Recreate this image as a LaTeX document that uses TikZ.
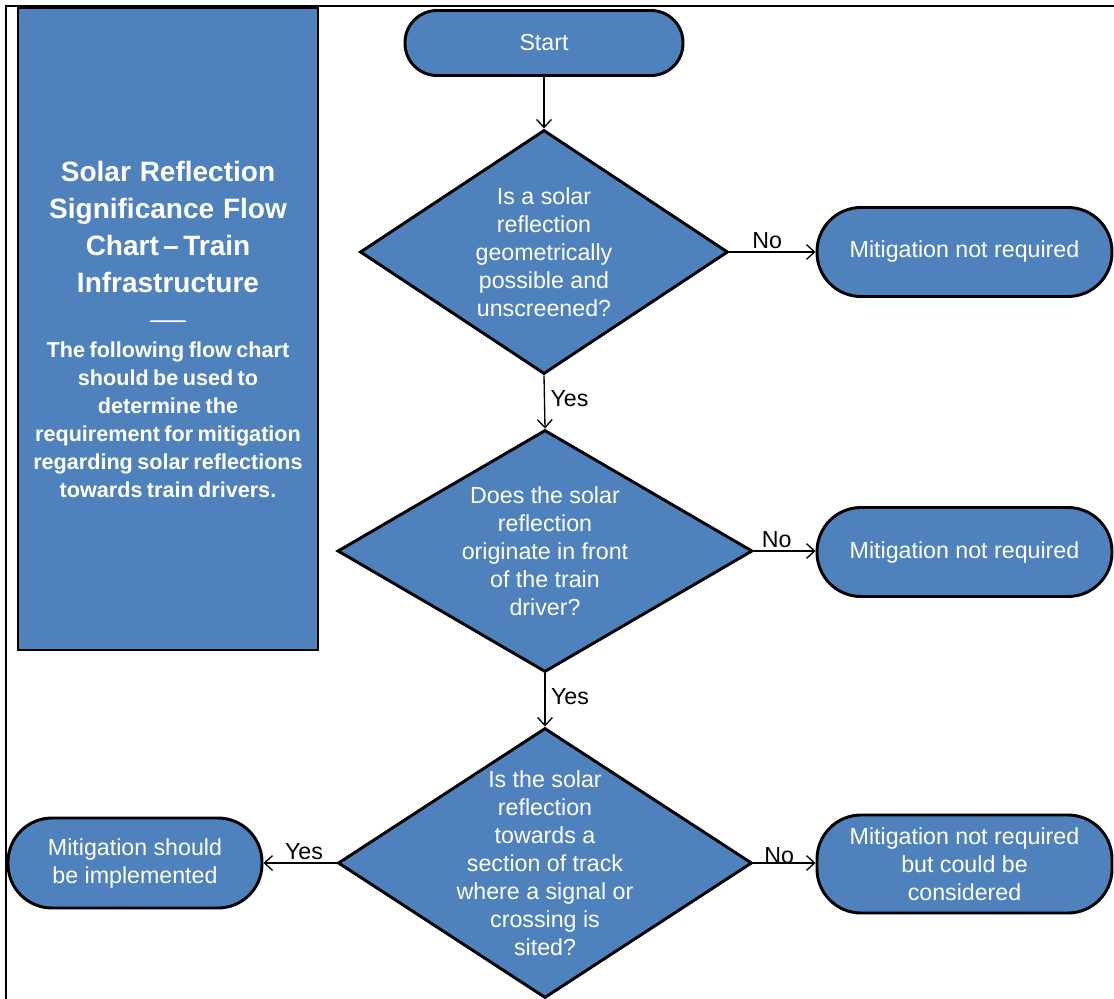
\documentclass[tikz,border=0pt]{standalone}
\usepackage{fontspec}
\setmainfont{Liberation Sans}
\usetikzlibrary{shapes.geometric,arrows.meta}
\definecolor{boxblue}{RGB}{79,129,189}
\begin{document}
\begin{tikzpicture}[x=0.75pt,y=-0.75pt,
  shapebase/.style={draw=black, line width=2.2pt, fill=boxblue, text=white, inner sep=0pt},
  bodyfont/.style={font=\fontsize{17.4}{21}\selectfont},
  terminal/.style={shapebase, bodyfont, rectangle, align=center},
  decision/.style={shapebase, diamond},
  qtext/.style={text=white, bodyfont, align=center, inner sep=0pt},
  arr/.style={-{Straight Barb[length=6pt,width=11pt]}, line width=1pt},
  lbl/.style={bodyfont, text=black, inner sep=2pt}
]
\useasboundingbox (0,0) rectangle (1114,999);
% outer frame
\draw[line width=1.6pt] (6,999) -- (6,6) -- (1114,6);

% left panel
\node[shapebase, rectangle, minimum width=225pt, minimum height=481.5pt,
      text width=218pt, align=center] (panel) at (168,329)
 {\bfseries\fontsize{21}{27.75}\selectfont Solar\ \ Reflection\\Significance\ \ Flow\\Chart – Train\\Infrastructure\\[-2pt]{\fontsize{13.5}{27.75}\selectfont ——}\par
  \vspace{2pt}\fontsize{16.2}{21}\selectfont The following flow chart\\should be used to\\determine the\\requirement for mitigation\\regarding solar reflections\\towards train drivers.\par};

% start
\node[terminal, minimum width=208.5pt, minimum height=48.75pt, rounded corners=24pt] (start) at (544,43) {Start};

% decisions
\node[decision, minimum width=276pt, minimum height=183pt] (d1) at (544,252) {};
\node[qtext] (q1) at (d1.center) {Is a solar\\reflection\\geometrically\\possible and\\unscreened?};

\node[decision, minimum width=311.25pt, minimum height=181.5pt] (d2) at (545,551) {};
\node[qtext] (q2) at (d2.center) {Does the solar\\reflection\\originate in front\\of the train\\driver?};

\node[decision, minimum width=310.5pt, minimum height=202.5pt] (d3) at (545,863) {};
\node[qtext] (q3) at (d3.center) {Is the solar\\reflection\\towards a\\section of track\\where a signal or\\crossing is\\sited?};

% outcomes
\node[terminal, minimum width=221.25pt, minimum height=66.75pt, rounded corners=33pt] (m1) at (964.5,252) {Mitigation not required};
\node[terminal, minimum width=221.25pt, minimum height=66.75pt, rounded corners=33pt] (m2) at (964.5,552) {Mitigation not required};
\node[terminal, minimum width=221.25pt, minimum height=73.5pt, rounded corners=33pt] (m3) at (964.5,864) {Mitigation not required\\but could be\\considered};
\node[terminal, minimum width=190.5pt, minimum height=67.5pt, rounded corners=33pt] (m4) at (135,863) {Mitigation should\\be implemented};

% connectors
\draw[arr] (start.south) -- (d1.north);
\draw[arr] (d1.east) -- node[lbl, above, xshift=-4pt] {No} (m1.west |- d1.east);
\draw[arr] (d1.south) -- node[lbl, right, xshift=2pt, yshift=2.5pt] {Yes} (d2.north);
\draw[arr] (d2.east) -- node[lbl, above, xshift=-6pt] {No} (m2.west |- d2.east);
\draw[arr] (d2.south) -- node[lbl, right, xshift=2pt, yshift=2.5pt] {Yes} (d3.north);
\draw[arr] (d3.east) -- node[lbl, above, xshift=-4pt, yshift=-3pt] {No} (m3.west |- d3.east);
\draw[arr] (d3.west) -- node[lbl, above, xshift=3pt] {Yes} (m4.east |- d3.west);
\end{tikzpicture}
\end{document}
